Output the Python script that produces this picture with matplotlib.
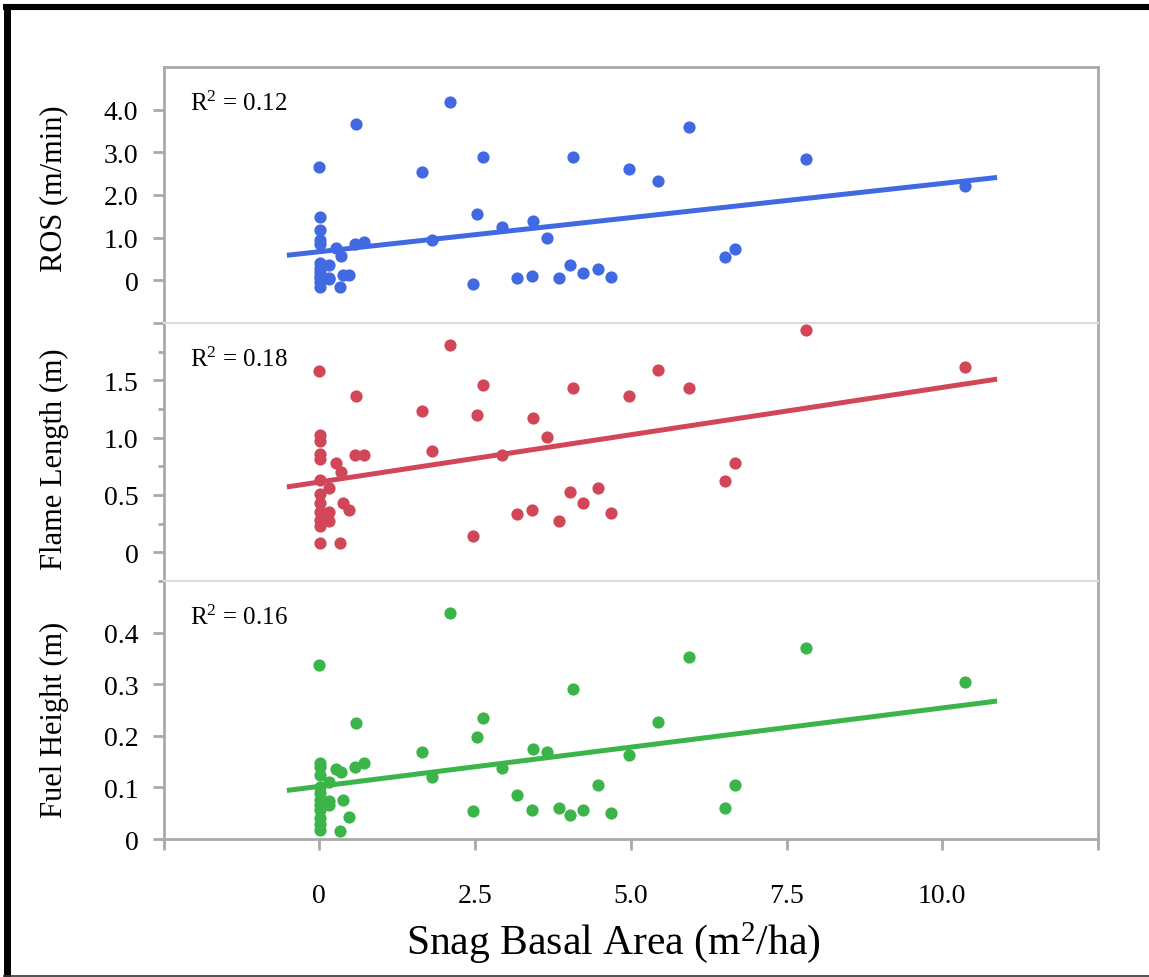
import matplotlib
matplotlib.use("Agg")
import matplotlib.pyplot as plt
from matplotlib.lines import Line2D
import numpy as np

plt.rcParams['font.family'] = ['Liberation Serif', 'DejaVu Serif']
plt.rcParams['mathtext.fontset'] = 'custom'
plt.rcParams['mathtext.rm'] = 'Liberation Serif'
plt.rcParams['mathtext.it'] = 'Liberation Serif:italic'

# ---------------- data ----------------
snag_ba = [0.00, 0.59, 2.10, 1.645, 2.63, 4.08, 4.97, 5.43, 5.94, 7.81, 10.36,
           6.51, 6.68, 2.53, 2.93, 3.43, 3.65, 1.81, 0.58, 0.72, 0.27, 0.35,
           2.47, 3.17, 3.42, 3.85, 4.02, 4.23, 4.48, 4.69, 0.38, 0.47, 0.33,
           0.15, 0.15, 0.15,
           0.02, 0.02, 0.02, 0.02, 0.02, 0.02, 0.02, 0.02, 0.02, 0.02, 0.02]

ros = [2.66, 3.66, 4.18, 2.54, 2.88, 2.88, 2.60, 2.33, 3.60, 2.84, 2.21,
       0.54, 0.73, 1.56, 1.26, 1.40, 0.99, 0.95, 0.85, 0.91, 0.75, 0.56,
       -0.09, 0.05, 0.09, 0.05, 0.35, 0.18, 0.26, 0.08, 0.12, 0.13, -0.15,
       0.35, 0.02, 0.05,
       1.49, 1.19, 0.95, 0.85, 0.40, 0.30, 0.20, 0.10, 0.05, -0.05, -0.15]

flame_len = [1.58, 1.36, 1.81, 1.23, 1.46, 1.43, 1.36, 1.59, 1.43, 1.94, 1.62,
             0.62, 0.78, 1.20, 0.85, 1.17, 1.01, 0.88, 0.85, 0.85, 0.78, 0.70,
             0.14, 0.33, 0.37, 0.27, 0.53, 0.43, 0.56, 0.34, 0.43, 0.37, 0.08,
             0.56, 0.35, 0.27,
             1.02, 0.97, 0.86, 0.81, 0.63, 0.51, 0.43, 0.35, 0.28, 0.23, 0.08]

fuel_ht = [0.338, 0.225, 0.438, 0.169, 0.235, 0.290, 0.162, 0.227, 0.352, 0.371, 0.304,
           0.061, 0.104, 0.197, 0.137, 0.175, 0.169, 0.120, 0.139, 0.148, 0.135, 0.130,
           0.055, 0.085, 0.057, 0.060, 0.046, 0.057, 0.104, 0.050, 0.076, 0.042, 0.016,
           0.110, 0.073, 0.066,
           0.148, 0.140, 0.125, 0.100, 0.090, 0.076, 0.065, 0.057, 0.040, 0.030, 0.018]

# regression lines (intercept, slope) and x extent
fit_x = [-0.52, 10.88]
ros_fit = (0.67, 0.160)
fl_fit = (0.613, 0.0825)
fh_fit = (0.102, 0.0152)

r2_labels = ["0.12", "0.18", "0.16"]
y_titles = ["ROS (m/min)", "Flame Length (m)", "Fuel Height (m)"]
colors = ["#4169E1", "#D24757", "#3BB44A"]

x_ticks = [-2.5, 0, 2.5, 5.0, 7.5, 10.0, 12.5]
x_ticklabels = ["", "0", "2.5", "5.0", "7.5", "10.0", ""]

ros_ticks = [-1, 0, 1, 2, 3, 4]
ros_ticklabels = ["", "0", "1.0", "2.0", "3.0", "4.0"]
fl_ticks = [0, 0.5, 1.0, 1.5]
fl_ticklabels = ["0", "0.5", "1.0", "1.5"]
fl_minor = [-0.25, 0.25, 0.75, 1.25, 1.75]
fh_ticks = [0, 0.1, 0.2, 0.3, 0.4]
fh_ticklabels = ["0", "0.1", "0.2", "0.3", "0.4"]

# ---------------- figure ----------------
W, H = 1149, 978
fig = plt.figure(figsize=(W / 100, H / 100), dpi=100)

def fx(px):
    return px / W

def fy(py):
    return 1 - py / H

left_px, right_px = 163.5, 1098
edges = [68, 324, 582, 840]
SPINE = "#a9a9a9"
SEP = "#dcdcdc"

axes = []
for i in range(3):
    ax = fig.add_axes([fx(left_px), fy(edges[i + 1]),
                       (right_px - left_px) / W, (edges[i + 1] - edges[i]) / H])
    axes.append(ax)

ylims = [(-1, 5), (-0.25, 2.0), (0, 0.5)]
series = [ros, flame_len, fuel_ht]
fits = [ros_fit, fl_fit, fh_fit]
ylabel_pos = [0.53, 0.477, 0.465]

for i, ax in enumerate(axes):
    ax.set_xlim(-2.5, 12.5)
    ax.set_ylim(*ylims[i])
    ax.plot(snag_ba, series[i], linestyle="none", marker="o", markersize=8.8,
            markeredgewidth=0, color=colors[i], zorder=2)
    b0, b1 = fits[i]
    fy_vals = [b0 + b1 * v for v in fit_x]
    ax.plot(fit_x, fy_vals, color=colors[i], lw=3.6, solid_capstyle="butt", zorder=3)
    ax.text(0.028, 0.86, r"R$^2$ = " + r2_labels[i], transform=ax.transAxes,
            ha="left", va="center", fontsize=18)
    for s in ["left", "right"]:
        ax.spines[s].set_color(SPINE)
        ax.spines[s].set_linewidth(2.0)
    ax.spines["top"].set_color(SPINE if i == 0 else SEP)
    ax.spines["top"].set_linewidth(2.0 if i == 0 else 1.5)
    ax.spines["bottom"].set_color(SPINE if i == 2 else SEP)
    ax.spines["bottom"].set_linewidth(2.0 if i == 2 else 1.5)
    ax.tick_params(axis="y", which="major", direction="out", length=8,
                   width=2.0, color=SPINE, labelsize=20, pad=10)
    ax.tick_params(axis="y", which="minor", direction="out", length=4.5,
                   width=2.0, color=SPINE)
    ax.set_ylabel(y_titles[i], fontsize=22, va="center")
    ax.yaxis.set_label_coords(-0.117, ylabel_pos[i])
    if i < 2:
        ax.tick_params(axis="x", which="both", bottom=False, labelbottom=False)

axes[0].set_yticks(ros_ticks)
axes[0].set_yticklabels(ros_ticklabels)
axes[1].set_yticks(fl_ticks)
axes[1].set_yticklabels(fl_ticklabels)
axes[1].set_yticks(fl_minor, minor=True)
axes[2].set_yticks(fh_ticks)
axes[2].set_yticklabels(fh_ticklabels)

axb = axes[2]
axb.set_xticks(x_ticks)
axb.set_xticklabels(x_ticklabels)
axb.tick_params(axis="x", direction="out", length=8, width=2.0, color=SPINE,
                labelsize=20, pad=24)
axb.set_xlabel(r"Snag Basal Area (m$^2$/ha)", fontsize=30, va="top")
axb.xaxis.set_label_coords(0.481, -0.31)

# outer frame of the figure (black edges on top, left and bottom)
fig.add_artist(Line2D([fx(3), 1.0], [fy(8), fy(8)], transform=fig.transFigure,
                      color="black", lw=4.4, solid_capstyle="butt"))
fig.add_artist(Line2D([fx(6.5), fx(6.5)], [fy(5), fy(977.5)], transform=fig.transFigure,
                      color="black", lw=5.0, solid_capstyle="butt"))
fig.add_artist(Line2D([fx(3), 1.0], [fy(976.8), fy(976.8)], transform=fig.transFigure,
                      color="#333333", lw=1.2, solid_capstyle="butt"))

fig.savefig("out.png", dpi=100)
